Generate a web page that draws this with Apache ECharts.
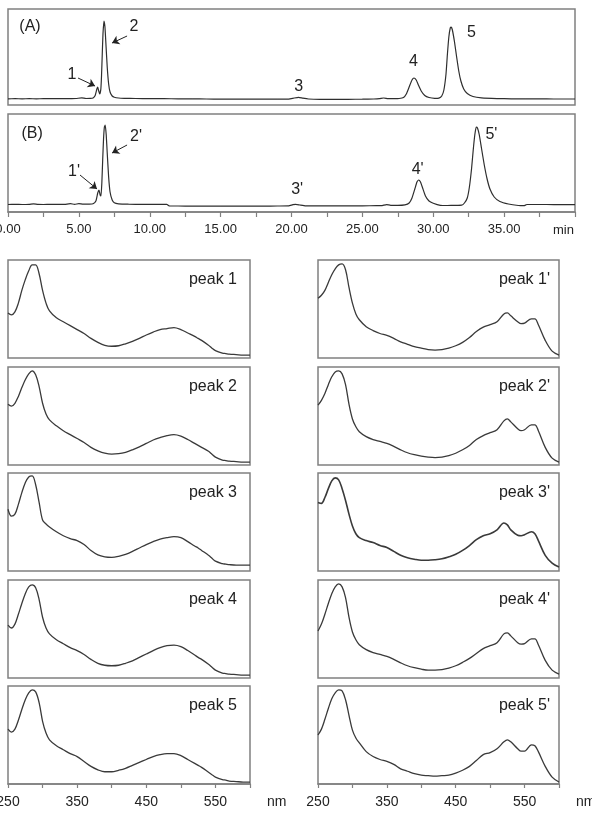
<!DOCTYPE html>
<html><head><meta charset="utf-8">
<script src="https://cdn.jsdelivr.net/npm/echarts/dist/echarts.min.js"></script>
<style>html,body{margin:0;padding:0;background:#fff}#c{width:592px;height:829px}</style>
</head><body><div id="c"></div>
<script>
// ---------- Chromatogram (A) ----------
const aTime = [0, 0.5, 1, 1.5, 2, 2.5, 3, 3.5, 4, 4.5,
 4.8, 5.2, 5.5, 5.8, 6.0, 6.15, 6.27, 6.33, 6.4, 6.47,
 6.55, 6.6, 6.65, 6.7, 6.77, 6.84, 6.92, 7.0, 7.1, 7.2,
 7.35, 7.5, 7.8, 8.2, 9, 10, 11, 12, 13, 14,
 15, 16, 17, 18, 19, 19.8, 20.2, 20.5, 20.8, 21.2,
 22, 23, 24, 25, 25.8, 26.2, 26.5, 26.8, 27.3, 27.6,
 27.9, 28.1, 28.3, 28.5, 28.64, 28.8, 28.95, 29.15, 29.4, 29.7,
 30.1, 30.4, 30.6, 30.75, 30.9, 31.0, 31.1, 31.2, 31.27, 31.35,
 31.5, 31.65, 31.8, 31.95, 32.15, 32.4, 32.8, 33.4, 34.5, 35.5,
 36.5, 37.5, 38.5, 40];
const aSignal = [0.2, 0.3, 0.2, 0.3, 0.2, 0.3, 0.4, 0.3, 0.4, 0.4,
 0.5, 1.2, 0.5, 0.6, 1.0, 3.5, 10, 12, 8, 5,
 10, 24, 45, 65, 78, 72, 52, 32, 15, 7,
 3, 1.8, 1.0, 0.7, 0.5, 0.4, 0.3, 0.2, 0.1, 0,
 -0.1, -0.1, -0.2, -0.1, -0.2, -0.1, 1.0, 1.6, 0.8, 0,
 -0.3, -0.3, -0.3, -0.2, 0, 0.3, 1.0, 0.4, 0.3, 0.5,
 1.5, 5, 12, 19, 21, 19, 14, 8, 3.5, 1.5,
 0.7, 0.9, 3, 9, 25, 45, 62, 71, 72, 69,
 57, 42, 28, 18, 10, 5.5, 2.5, 1.1, 0.4, 0.2,
 0.1, 0.1, 0, 0];

// ---------- Chromatogram (B) ----------
const bTime = [0, 0.5, 1, 1.5, 1.8, 2.1, 2.5, 3, 3.5, 4,
 4.4, 4.7, 5.0, 5.3, 5.7, 6.0, 6.2, 6.33, 6.42, 6.5,
 6.56, 6.62, 6.68, 6.74, 6.8, 6.86, 6.93, 7.0, 7.1, 7.2,
 7.35, 7.5, 7.8, 8.5, 9.5, 10.5, 11.2, 11.4, 12, 13,
 14, 15, 16, 17, 18, 19, 19.8, 20.1, 20.3, 20.6,
 21, 22, 23, 24, 25, 26, 26.4, 26.7, 27.0, 27.5,
 28.0, 28.3, 28.5, 28.7, 28.85, 28.97, 29.1, 29.25, 29.45, 29.7,
 30.0, 30.5, 31, 31.5, 32.0, 32.2, 32.4, 32.55, 32.7, 32.82,
 32.93, 33.03, 33.12, 33.25, 33.4, 33.6, 33.8, 34.0, 34.3, 34.7,
 35.3, 36.0, 36.4, 36.6, 37, 38, 39, 40];
const bSignal = [0.5, 0.6, 0.5, 0.7, 1.2, 0.6, 0.5, 0.6, 0.6, 0.7,
 1.3, 0.7, 1.3, 0.8, 0.9, 1.2, 4, 12, 15, 10,
 9, 22, 45, 66, 78, 80, 70, 52, 28, 13,
 5, 2.2, 1.2, 0.8, 0.6, 0.6, 0.6, -1.0, -1.0, -1.1,
 -1.1, -1.2, -1.2, -1.1, -1.1, -1.0, -0.9, 0.4, 0.7, 0,
 -0.8, -0.9, -0.9, -0.8, -0.8, -0.7, -0.6, 0.4, -0.3, -0.3,
 0.2, 2, 7, 16, 23, 25, 23, 17, 9, 4,
 1.8, -0.3, -0.5, -0.4, -0.2, 2, 7, 18, 36, 55,
 70, 78, 77, 70, 57, 40, 26, 16, 8, 3.5,
 1.0, -0.5, -0.7, 0.5, 0.5, 0.5, 0.4, 0.4];

// peak annotations (data coordinates: minutes, signal)
const annotA = [['(A)',1.55,72],['1',4.51,24],['2',8.89,72],['3',20.5,12],['4',28.6,37],['5',32.7,66]];
const annotB = [['(B)',1.7,71],["1'",4.66,33],["2'",9.03,68],["3'",20.4,15],["4'",28.9,35],["5'",34.1,70]];
const arrowsA = [[4.94,21,6.14,13],[8.4,63,7.34,56]];
const arrowsB = [[5.08,30,6.28,16],[8.4,60,7.34,52]];

// ---------- UV-Vis spectra ----------
const wavelengths = [250,255,260,265,270,275,280,285,290,295,300,305,310,320,330,340,350,360,370,380,390,400,410,420,430,440,450,460,470,480,490,500,510,520,525,530,540,545,550,560,565,570,580,590,600];
const peak1 = [.46,.44,.47,.56,.69,.80,.89,.95,.95,.86,.69,.56,.48,.41,.37,.33,.29,.25,.20,.16,.13,.12,.125,.145,.17,.20,.235,.265,.29,.30,.31,.29,.255,.22,.20,.18,.13,.10,.075,.05,.045,.04,.035,.03,.03];
const peak2 = [.62,.60,.63,.70,.79,.87,.93,.96,.92,.80,.63,.52,.46,.40,.35,.31,.27,.23,.18,.145,.12,.11,.115,.13,.155,.185,.22,.255,.28,.30,.31,.295,.26,.22,.20,.18,.14,.11,.08,.05,.045,.04,.035,.03,.03];
const peak3 = [.63,.56,.58,.68,.80,.90,.96,.97,.88,.70,.52,.48,.45,.40,.36,.33,.31,.27,.21,.165,.145,.14,.15,.17,.20,.235,.27,.30,.325,.34,.35,.34,.30,.255,.235,.21,.16,.13,.10,.075,.07,.065,.06,.06,.06];
const peak4 = [.54,.51,.55,.65,.76,.86,.93,.95,.92,.80,.62,.51,.45,.39,.35,.31,.28,.24,.19,.15,.13,.125,.13,.15,.175,.21,.245,.28,.31,.33,.335,.32,.28,.235,.21,.19,.14,.11,.08,.05,.045,.04,.035,.03,.03];
const peak5 = [.56,.53,.56,.65,.76,.86,.93,.96,.94,.83,.64,.52,.45,.39,.35,.31,.28,.23,.18,.145,.125,.125,.14,.16,.19,.22,.25,.28,.30,.31,.31,.29,.25,.21,.19,.17,.12,.095,.07,.045,.04,.03,.025,.02,.02];
const peak1p = [.61,.64,.69,.77,.85,.91,.95,.96,.90,.72,.56,.45,.39,.32,.28,.25,.23,.20,.165,.14,.115,.10,.085,.08,.085,.10,.125,.16,.21,.27,.315,.34,.37,.45,.46,.43,.37,.35,.355,.40,.40,.34,.18,.07,.03];
const peak2p = [.61,.66,.73,.82,.90,.95,.96,.93,.82,.62,.47,.39,.34,.29,.26,.24,.22,.19,.155,.125,.105,.09,.08,.075,.08,.095,.12,.155,.20,.26,.30,.33,.36,.45,.47,.44,.37,.35,.36,.41,.41,.35,.18,.07,.03];
const peak3p = [.70,.69,.75,.84,.92,.95,.93,.84,.72,.58,.46,.38,.34,.31,.29,.26,.24,.20,.16,.135,.12,.11,.11,.115,.125,.145,.17,.21,.26,.32,.36,.38,.42,.49,.47,.42,.365,.36,.37,.40,.38,.31,.16,.08,.04];
const peak4p = [.48,.55,.65,.76,.86,.93,.96,.93,.82,.62,.47,.39,.34,.29,.26,.24,.22,.19,.155,.125,.105,.09,.08,.08,.085,.10,.125,.16,.20,.25,.30,.33,.36,.45,.46,.43,.36,.345,.35,.40,.40,.34,.18,.08,.04];
const peak5p = [.50,.56,.66,.77,.87,.93,.96,.95,.86,.70,.55,.47,.42,.33,.28,.25,.23,.20,.155,.13,.105,.09,.085,.08,.085,.09,.11,.14,.18,.24,.30,.32,.36,.43,.45,.43,.36,.335,.335,.40,.39,.33,.18,.07,.02];
const leftNames = ['peak 1','peak 2','peak 3','peak 4','peak 5'];
const rightNames = ["peak 1'","peak 2'","peak 3'","peak 4'","peak 5'"];
const leftSpectra = [peak1, peak2, peak3, peak4, peak5];
const rightSpectra = [peak1p, peak2p, peak3p, peak4p, peak5p];

// ---------- build ----------
const FONT = '"Liberation Sans", Arial, Helvetica, sans-serif';
const BOX = '#808080';
const TXT = '#222';
const LINE = '#2e2e2e';
const grid = [], xAxis = [], yAxis = [], series = [], title = [];
const zip = (a, b) => a.map((v, i) => [v, b[i]]);

function addPanel(g, x, y, s) {
  grid.push(Object.assign({show:true, borderColor:BOX, borderWidth:1.5, containLabel:false, outerBoundsMode:'none'}, g));
  const gi = grid.length - 1;
  xAxis.push(Object.assign({type:'value', gridIndex:gi, splitLine:{show:false}}, x));
  yAxis.push(Object.assign({type:'value', gridIndex:gi, show:false}, y));
  series.push(Object.assign({type:'line', xAxisIndex:gi, yAxisIndex:gi, symbol:'none', showSymbol:false,
    silent:true, animation:false, lineStyle:{color:LINE, width:1.2}}, s));
}

function annot(list, arrows) {
  return {
    markPoint: {
      symbol:'circle', symbolSize:1, itemStyle:{color:'rgba(0,0,0,0)'}, silent:true, animation:false,
      label:{show:true, position:'inside', formatter:'{b}', fontSize:16, color:TXT, fontFamily:FONT},
      data: list.map(a => ({name:a[0], coord:[a[1], a[2]]}))
    },
    markLine: {
      symbol:['none','arrow'], symbolSize:7, silent:true, animation:false,
      lineStyle:{color:TXT, width:1, type:'solid'}, label:{show:false},
      emphasis:{disabled:true},
      data: arrows.map(r => [{coord:[r[0], r[1]]}, {coord:[r[2], r[3]]}])
    }
  };
}

const nameStyle = (fs) => ({fontSize:fs, color:TXT, fontFamily:FONT, verticalAlign:'top', lineHeight:36, padding:0});

const chromX = {min:0, max:40, interval:2.5, axisLine:{show:false}, axisTick:{show:false}, axisLabel:{show:false}};
addPanel({left:8, top:9, width:567, height:96}, chromX, {min:-6, max:90},
  Object.assign({data: zip(aTime, aSignal), smooth:0.15}, annot(annotA, arrowsA)));
addPanel({left:8, top:114, width:567, height:98},
  {min:0, max:40, interval:2.5,
   axisLine:{show:true, onZero:false, lineStyle:{color:BOX, width:1.5}},
   axisTick:{show:true, inside:false, length:5, lineStyle:{color:BOX, width:1.2}},
   axisLabel:{show:true, margin:11, fontSize:13, color:TXT, fontFamily:FONT, hideOverlap:false,
     showMinLabel:true, showMaxLabel:true,
     formatter: v => (Math.abs(v % 5) < 1e-6 && v < 39.9) ? v.toFixed(2) : ''},
   name:'min', nameLocation:'end', nameGap:-22, nameTextStyle:nameStyle(13)},
  {min:-7, max:91},
  Object.assign({data: zip(bTime, bSignal), smooth:0.15}, annot(annotB, arrowsB)));

const rowTops = [260, 367, 473, 580, 686];
const cols = [{left:8, width:242, names:leftNames, data:leftSpectra, textRight:355},
              {left:318, width:241, names:rightNames, data:rightSpectra, textRight:42}];
rowTops.forEach((top, r) => {
  cols.forEach(c => {
    const last = r === rowTops.length - 1;
    const x = {min:250, max:600, interval:50,
      axisLine:{show:last, onZero:false, lineStyle:{color:BOX, width:1.5}},
      axisTick:{show:last, inside:false, length:4, lineStyle:{color:BOX, width:1.2}},
      axisLabel:{show:last, margin:11, fontSize:14, color:TXT, fontFamily:FONT, hideOverlap:false,
        showMinLabel:true, showMaxLabel:true,
        formatter: v => ((v - 250) % 100 === 0 && v < 600) ? String(v) : ''}};
    if (last) {
      x.name = 'nm'; x.nameLocation = 'end'; x.nameGap = 17;
      x.nameTextStyle = nameStyle(14);
    }
    addPanel({left:c.left, top:top, width:c.width, height:98}, x, {min:0, max:1},
      {data: zip(wavelengths, c.data[r]), smooth:0.35,
       lineStyle:{color:'#3a3a3a', width:(c.names[r] === "peak 3'") ? 1.6 : 1.3}});
    title.push({text:c.names[r], right:c.textRight, top:top + 12, padding:0,
      textStyle:{fontSize:16, fontWeight:'normal', color:TXT, fontFamily:FONT}});
  });
});

const chart = echarts.init(document.getElementById('c'), null, {renderer:'canvas'});
chart.setOption({animation:false, backgroundColor:'#fff', title, grid, xAxis, yAxis, series});
</script>
</body></html>
